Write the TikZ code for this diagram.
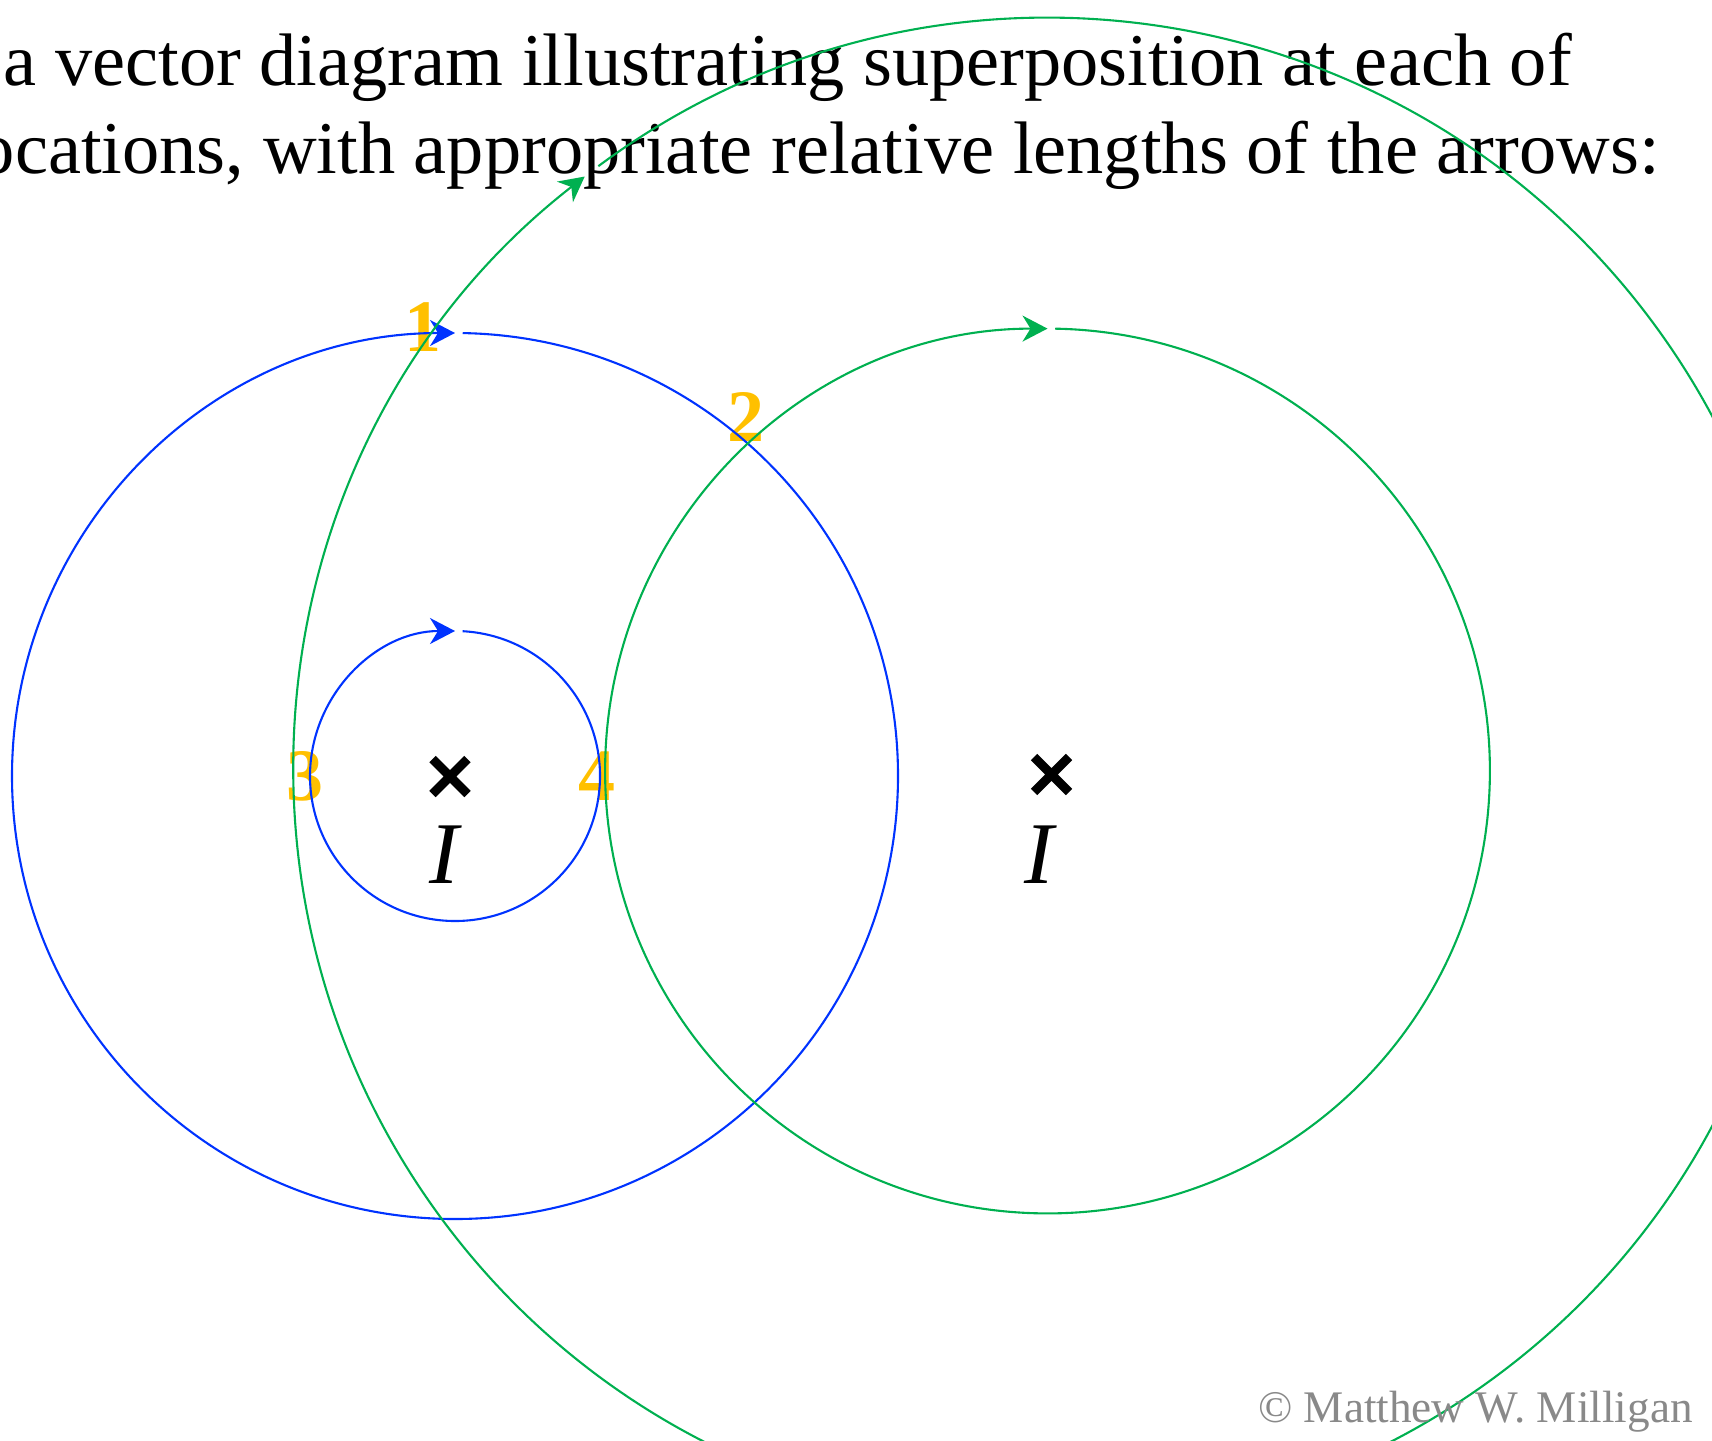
\documentclass[tikz,border=0pt]{standalone}
\usepackage{fontspec}
\setmainfont{Liberation Serif}
\usetikzlibrary{arrows.meta,shapes.misc}
\definecolor{fieldblue}{RGB}{0,51,255}
\definecolor{fieldgreen}{RGB}{0,176,80}
\definecolor{ptgold}{RGB}{255,192,0}
\definecolor{copygray}{RGB}{137,137,137}
\tikzset{
  field/.style={line width=1.05pt,-{Stealth[length=12.5pt,width=13pt,inset=4pt]}},
  bluefield/.style={field,draw=fieldblue,fill=none,-{Stealth[length=12.5pt,width=13pt,inset=4pt,fill=fieldblue]}},
  greenfield/.style={field,draw=fieldgreen,fill=none,-{Stealth[length=12.5pt,width=13pt,inset=4pt,fill=fieldgreen]}},
  ptlabel/.style={text=ptgold,font=\fontsize{37}{44}\selectfont\bfseries,inner sep=0pt},
  wire/.style={cross out,draw=black,line width=4.5pt,minimum size=17.5pt,inner sep=0pt,outer sep=0pt},
  curlabel/.style={font=\fontsize{44}{52}\selectfont\itshape,inner sep=0pt,anchor=base},
  heading/.style={font=\fontsize{37.2}{44}\selectfont,inner sep=0pt,anchor=base east},
}
\begin{document}
\begin{tikzpicture}[x=0.5pt,y=-0.5pt]
\useasboundingbox (0,0) rectangle (1712,1440);
\clip (0,0) rectangle (1712,1440);
% heading
\node[heading] (line1) at (1572,85) {a vector diagram illustrating superposition at each of};
\node[heading] (line2) at (1660,173) {ocations, with appropriate relative lengths of the arrows:};
% point labels
\node[ptlabel] (p1) at (423,327) {1};
\node[ptlabel] (p2) at (746,417) {2};
\node[ptlabel] (p3) at (305,776) {3};
\node[ptlabel] (p4) at (597,776) {4};
% centres
\coordinate (cb) at (455,776);
\coordinate (cg) at (1047.5,771);
% blue field lines
\draw[bluefield] (cb) ++(87:72.5pt) arc[start angle=87,end angle=-270,radius=72.5pt];
\draw[bluefield] (cb) ++(89:221.5pt) arc[start angle=89,end angle=-270,radius=221.5pt];
% green field lines
\draw[greenfield] (cg) ++(89:221.2pt) arc[start angle=89,end angle=-270,radius=221.2pt];
\draw[greenfield] (cg) ++(126.6:376.7pt) arc[start angle=126.6,end angle=-232.1,radius=376.7pt];
% wires
\node[wire] (w1) at (450,776.5) {};
\node[wire] (w2) at (1051.5,774.5) {};
\node[curlabel] (i1) at (444,883) {I};
\node[curlabel] (i2) at (1039,883) {I};
% copyright
\node[font=\fontsize{22.6}{26}\selectfont,text=copygray,inner sep=0pt,anchor=base east] (copy) at (1693,1422) {© Matthew W. Milligan};
\end{tikzpicture}
\end{document}
